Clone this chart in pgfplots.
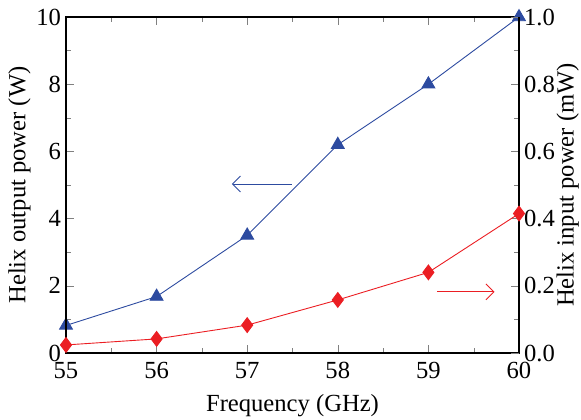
\documentclass[border=0pt]{standalone}
\usepackage{pgfplots}
\pgfplotsset{compat=1.18}
\usepackage[no-math]{fontspec}
\setmainfont{Liberation Serif}
\usetikzlibrary{arrows.meta}
\definecolor{myblue}{RGB}{45,75,160}
\definecolor{myred}{RGB}{235,30,35}
\begin{document}
\begin{tikzpicture}[font=\rmfamily\fontsize{12.3}{14}\selectfont]
\pgfplotsset{every axis/.append style={
  width=226.5pt, height=168pt, scale only axis,
  xmin=55, xmax=60,
  tick align=inside,
  axis line style={line width=0.6pt},
  major tick length=4pt, minor tick length=2.5pt,
  /pgf/number format/assume math mode=true,
  tick label style={font=\rmfamily\fontsize{12.3}{14}\selectfont},
  label style={font=\rmfamily\fontsize{12.3}{14}\selectfont},
}}
\begin{axis}[
  name=ax,
  ymin=0, ymax=10,
  xtick={55,56,57,58,59,60},
  minor xtick={55.5,56.5,57.5,58.5,59.5},
  ytick={0,2,4,6,8,10},
  minor ytick={1,3,5,7,9},
  ytick pos=left, xtick pos=both,
  yticklabel style={xshift=1pt},
  xticklabel style={yshift=-1pt},
  xlabel={Frequency (GHz)},
  ylabel={Helix output power (W)},
  xlabel style={yshift=-1pt},
  ylabel style={yshift=-4pt},
]
\addplot[myblue, line width=0.45pt, mark=triangle*, mark size=3.7pt, mark options={solid}] coordinates {
(55,0.82) (56,1.68) (57,3.5) (58,6.2) (59,8.0) (60,10.0)};
\draw[myblue, line width=0.45pt, -{Straight Barb[length=4pt,width=8pt]}] (axis cs:57.49,5.03) -- (axis cs:56.83,5.03);
\draw[myred, line width=0.45pt, -{Straight Barb[length=4pt,width=8pt]}] (axis cs:59.1,1.82) -- (axis cs:59.73,1.82);
\end{axis}
\begin{axis}[
  ymin=0, ymax=1.0,
  hide x axis,
  ytick pos=right,
  ytick={0,0.2,0.4,0.6,0.8,1.0},
  minor ytick={0.1,0.3,0.5,0.7,0.9},
  yticklabel style={xshift=-1pt, /pgf/number format/fixed, /pgf/number format/fixed zerofill, /pgf/number format/precision=1},
  ylabel={Helix input power (mW)},
  ylabel near ticks, yticklabel pos=right,
  ylabel style={yshift=6pt},
]
\addplot[myred, line width=0.45pt, mark=diamond*, mark size=3.7pt, mark options={solid}] coordinates {
(55,0.024) (56,0.042) (57,0.083) (58,0.158) (59,0.240) (60,0.415)};
\end{axis}
\pgfresetboundingbox
\path[use as bounding box] ([shift={(-33pt,-33pt)}]ax.south west) rectangle ([shift={(31pt,8.5pt)}]ax.north east);
\end{tikzpicture}
\end{document}
